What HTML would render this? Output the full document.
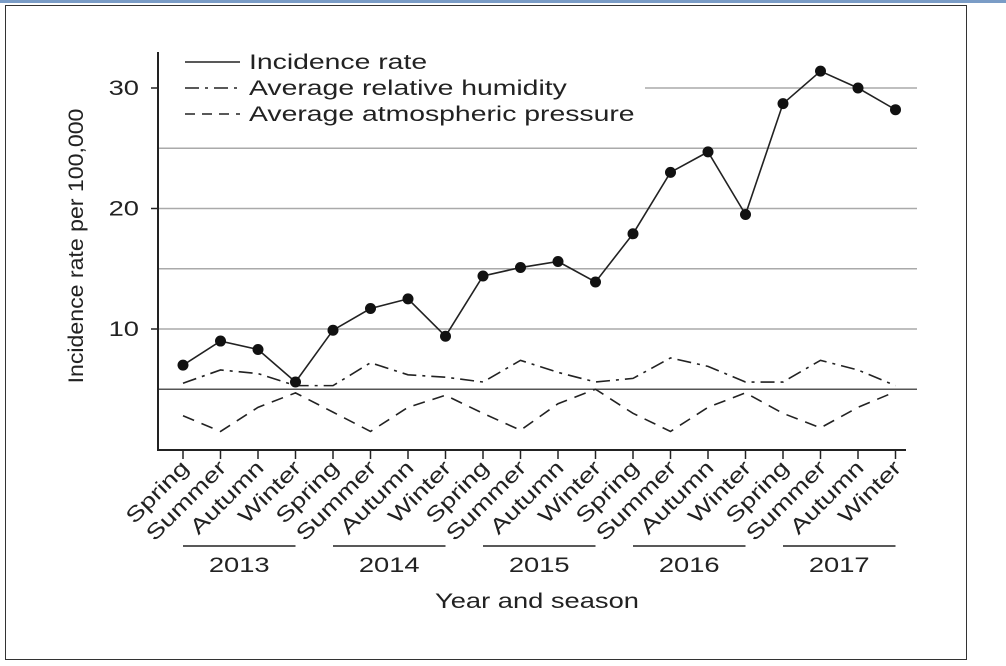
<!DOCTYPE html>
<html><head><meta charset="utf-8"><style>
body{margin:0;width:1006px;height:666px;background:#fff;overflow:hidden;font-family:"Liberation Sans",sans-serif}
#topbar{position:absolute;left:0;top:0;width:1006px;height:3px;background:#7a9cc6}
#frame{position:absolute;left:5px;top:5px;width:962px;height:655px;border:1px solid #333;box-sizing:border-box}
svg{position:absolute;left:0;top:0}
text{font-family:"Liberation Sans",sans-serif;fill:#222}
</style></head><body>
<div id="topbar"></div>
<div id="frame"></div>
<svg id="c" width="1006" height="666"></svg>
<script>
const seasons=["Spring","Summer","Autumn","Winter"];
const years=["2013","2014","2015","2016","2017"];
const incidence=[7.0,9.0,8.3,5.6,9.9,11.7,12.5,9.4,14.4,15.1,15.6,13.9,17.9,23.0,24.7,19.5,28.7,31.4,30.0,28.2];
const humidity=[5.5,6.6,6.3,5.3,5.3,7.2,6.2,6.0,5.6,7.4,6.4,5.6,5.9,7.6,6.9,5.6,5.6,7.4,6.6,5.3];
const pressure=[2.8,1.5,3.5,4.7,3.1,1.5,3.5,4.5,3.0,1.6,3.8,5.0,3.0,1.5,3.5,4.7,3.0,1.8,3.5,4.8];
const yTicks=[10,20,30];
const gridVals=[5,10,15,20,25,30];
const svg=document.getElementById('c');const NS='http://www.w3.org/2000/svg';
function mk(t,a,p){const e=document.createElementNS(NS,t);for(const k in a)e.setAttribute(k,a[k]);(p||svg).appendChild(e);return e;}
function widen(el,f){const w=el.getComputedTextLength();el.setAttribute('textLength',w*f);el.setAttribute('lengthAdjust','spacingAndGlyphs');}
const X=i=>183+i*37.5;
const Y=v=>449.5-v*12.05;
gridVals.forEach(v=>{
 const g=mk('line',{x1:v===30?645:158,x2:917,y1:Y(v),y2:Y(v),stroke:v===5?'#555':'#aaa','stroke-width':1.5});
 
 
});
let a=mk('line',{x1:158,x2:158,y1:52,y2:450,stroke:'#222','stroke-width':2});


a=mk('line',{x1:157,x2:906,y1:450,y2:450,stroke:'#222','stroke-width':2});


yTicks.forEach(v=>{
 mk('line',{x1:151,x2:158,y1:Y(v),y2:Y(v),stroke:'#222','stroke-width':1.5});
 const t=mk('text',{x:139,y:Y(v)+7,'text-anchor':'end','font-size':21});t.textContent=v;
 widen(t,1.3);
 
 
});
const n=years.length*seasons.length;
for(let i=0;i<n;i++){
 mk('line',{x1:X(i),x2:X(i),y1:450,y2:459,stroke:'#222','stroke-width':1.5});
 const t=mk('text',{x:0,y:0,'text-anchor':'end','font-size':21,transform:`translate(${X(i)+7},${469}) rotate(-45)`});
 t.textContent=seasons[i%4];
 widen(t,1.3);
 
 
}
years.forEach((y,k)=>{
 const l=mk('line',{x1:X(k*4),x2:X(k*4+3),y1:546,y2:546,stroke:'#222','stroke-width':1.5});
 
 
 const t=mk('text',{x:(X(k*4)+X(k*4+3))/2,y:572,'text-anchor':'middle','font-size':21});t.textContent=y;
 widen(t,1.3);
 
 
});
let t=mk('text',{x:537,y:608,'text-anchor':'middle','font-size':21});t.textContent='Year and season';
widen(t,1.3);


t=mk('text',{x:0,y:0,'text-anchor':'middle','font-size':21,transform:'translate(83,246) rotate(-90)'});t.textContent='Incidence rate per 100,000';
widen(t,1.1);


function series(arr,dash,name){
 const p=mk('polyline',{points:arr.map((v,i)=>X(i)+','+Y(v)).join(' '),fill:'none',stroke:'#222','stroke-width':1.6,'stroke-dasharray':dash});
 
 
}
series(pressure,'12,8','pressure-line');
series(humidity,'14,6,3,6','humidity-line');
series(incidence,'none','incidence-line');
incidence.forEach((v,i)=>{
 const c=mk('circle',{cx:X(i),cy:Y(v),r:5.5,fill:'#111'});
 
 
});
const leg=[['Incidence rate','none'],['Average relative humidity','14,6,3,6'],['Average atmospheric pressure','10,7']];
leg.forEach((l,k)=>{
 const y=62+k*26;
 mk('line',{x1:185,x2:240,y1:y,y2:y,stroke:'#222','stroke-width':1.6,'stroke-dasharray':l[1]});
 const tt=mk('text',{x:249,y:y+7,'font-size':21});tt.textContent=l[0];
 widen(tt,1.35);
 
 
});
</script>
</body></html>
